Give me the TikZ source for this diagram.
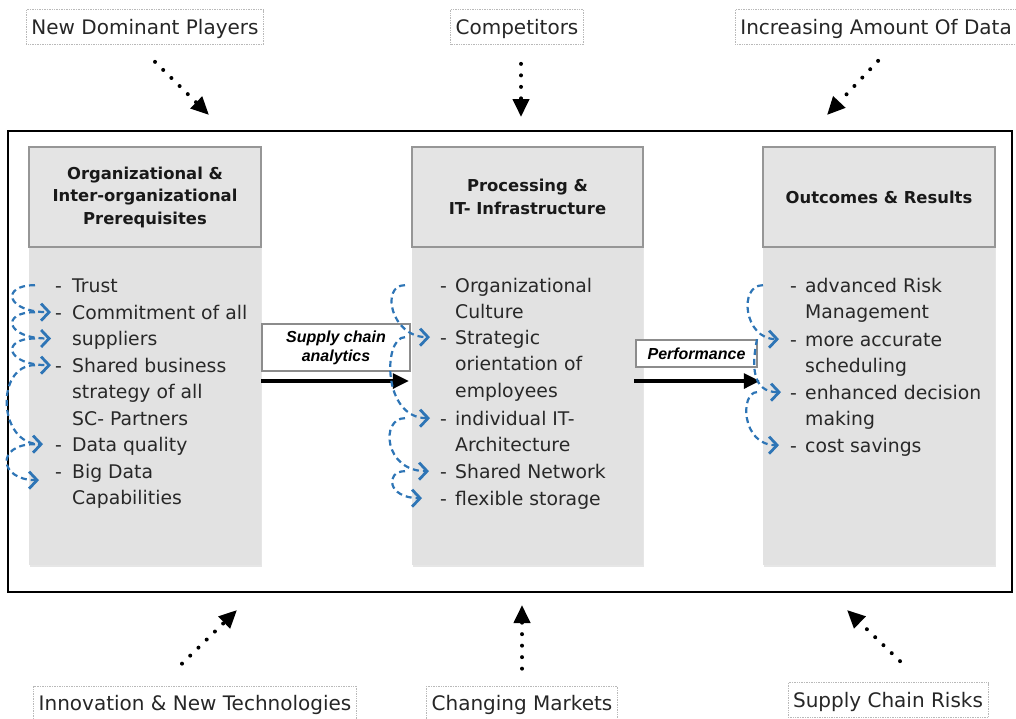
\documentclass[tikz,border=0pt]{standalone}
\usepackage{fontspec}
\setmainfont{DejaVu Sans}
\newfontfamily\arialf{Liberation Sans}
\usetikzlibrary{arrows.meta,shadows}
\definecolor{hdrfill}{RGB}{228,228,228}
\definecolor{bodyfill}{RGB}{226,226,226}
\definecolor{hdrline}{RGB}{150,150,150}
\definecolor{bluec}{RGB}{46,117,182}
\definecolor{txt}{RGB}{40,40,40}
\definecolor{lblline}{RGB}{185,185,185}
\begin{document}
\begin{tikzpicture}[x=1pt,y=-1pt,
  frame/.style={draw=black,line width=2pt},
  hdr/.style={draw=hdrline,line width=1.5pt,fill=hdrfill,minimum height=100pt,align=center,
    font=\fontsize{16.4}{22.5}\selectfont\bfseries,text=black!90,inner sep=0},
  bodybox/.style={fill=bodyfill,minimum height=319pt,inner sep=0,
    drop shadow={shadow xshift=0.5pt,shadow yshift=-2pt,opacity=0.2}},
  item/.style={anchor=base west,align=left,inner sep=0,text=txt,font=\fontsize{18.8}{26.6}\selectfont},
  dashn/.style={anchor=base west,inner sep=0,text=txt,font=\fontsize{18.8}{26.6}\selectfont,text height=13.7pt,text depth=0pt},
  toplbl/.style={draw=lblline,line width=0.7pt,densely dotted,text=black!85,font=\fontsize{20}{24}\selectfont,
    minimum height=35pt,inner xsep=5pt,inner ysep=0pt,text height=14.6pt,text depth=0pt},
  lbox/.style={draw=black!45,line width=1.2pt,fill=white,align=center,inner sep=0,
    font=\arialf\bfseries\itshape\fontsize{16}{19}\selectfont},
  dotarr/.style={line width=4pt,line cap=round,dash pattern=on 0pt off 11.5pt,
    -{Triangle[length=18pt,width=16pt]}},
  mainarr/.style={line width=3.2pt,-{Triangle[length=16pt,width=15pt]}},
  bluearr/.style={draw=bluec,line width=2.2pt,dash pattern=on 6pt off 4pt,
    -{Straight Barb[length=8pt,width=17pt,line width=2.8pt]}}
]
\useasboundingbox (0,0) rectangle (1016,718);

% outer frame
\draw[frame] (8,131) rectangle (1012,592);

% column bodies
\node[bodybox,minimum width=232pt] (b1) at (145,405.5) {};
\node[bodybox,minimum width=231pt] (b2) at (527.5,405.5) {};
\node[bodybox,minimum width=232pt] (b3) at (879,405.5) {};

% headers
\node[hdr,minimum width=232pt] (h1) at (145,197) {Organizational \&\\Inter-organizational\\Prerequisites};
\node[hdr,minimum width=231pt] (h2) at (527.5,197) {Processing \&\\IT- Infrastructure};
\node[hdr,minimum width=232pt] (h3) at (879,197) {Outcomes \& Results};

% main arrows and labels
\draw[mainarr] ([yshift=24.5pt]b1.east) -- ([xshift=-3pt,yshift=24.5pt]b2.west);
\draw[mainarr] ([xshift=-9pt,yshift=24.5pt]b2.east) -- ([xshift=-3pt,yshift=24.5pt]b3.west);
\node[lbox,minimum width=148pt,minimum height=47pt] (sca) at (336,347.5) {Supply chain\\analytics};
\node[lbox,minimum width=121pt,minimum height=27pt] (perf) at (696.5,353.5) {Performance};

% outside influences
\node[toplbl] (ndp) at (145,27) {New Dominant Players};
\node[toplbl] (comp) at (517,27) {Competitors};
\node[toplbl,anchor=west] (iaod) at (735,27) {Increasing Amount Of Data};
\node[toplbl] (innov) at (195,703.5) {Innovation \& New Technologies};
\node[toplbl] (chm) at (522,703.5) {Changing Markets};
\node[toplbl] (scr) at (888,700) {Supply Chain Risks};

\coordinate (t1) at (209,115);
\coordinate (t2) at (521,117);
\coordinate (t3) at (827,115);
\coordinate (t4) at (237,610);
\coordinate (t5) at (522,605);
\coordinate (t6) at (847,610);
\draw[dotarr] ([shift={(10,17)}]ndp.south) -- (t1);
\draw[dotarr] ([shift={(4,19)}]comp.south) -- (t2);
\draw[dotarr] ([shift={(2,16)}]iaod.south) -- (t3);
\draw[dotarr] ([shift={(-13,-22)}]innov.north) -- (t4);
\draw[dotarr] ([shift={(0,-17)}]chm.north) -- (t5);
\draw[dotarr] ([shift={(12,-21)}]scr.north) -- (t6);

% left column items
\node[dashn] (dl1) at (55,292) {-};
\node[item] (l1) at (72,292) {Trust};
\node[dashn] (dl2) at (55,319) {-};
\node[item] (l2) at (72,345.6) {Commitment of all\\suppliers};
\node[dashn] (dl3) at (55,372) {-};
\node[item] (l3) at (72,425.2) {Shared business\\strategy of all\\SC- Partners};
\node[dashn] (dl4) at (55,451) {-};
\node[item] (l4) at (72,451) {Data quality};
\node[dashn] (dl5) at (55,478) {-};
\node[item] (l5) at (72,504.6) {Big Data\\Capabilities};

% middle column items
\node[dashn] (dm1) at (440,292) {-};
\node[item] (m1) at (455,318.6) {Organizational\\Culture};
\node[dashn] (dm2) at (440,344) {-};
\node[item] (m2) at (455,397.2) {Strategic\\orientation of\\employees};
\node[dashn] (dm3) at (440,425) {-};
\node[item] (m3) at (455,451.6) {individual IT-\\Architecture};
\node[dashn] (dm4) at (440,478) {-};
\node[item] (m4) at (455,478) {Shared Network};
\node[dashn] (dm5) at (440,505) {-};
\node[item] (m5) at (455,505) {flexible storage};

% right column items
\node[dashn] (dr1) at (790,292) {-};
\node[item] (r1) at (805,318.6) {advanced Risk\\Management};
\node[dashn] (dr2) at (790,346) {-};
\node[item] (r2) at (805,372.6) {more accurate\\scheduling};
\node[dashn] (dr3) at (790,399) {-};
\node[item] (r3) at (805,425.6) {enhanced decision\\making};
\node[dashn] (dr4) at (790,452) {-};
\node[item] (r4) at (805,452) {cost savings};

% blue dashed curved arrows - left
\draw[bluearr] ([xshift=-20pt]dl1.west) .. controls +(-35,0) and +(-45,0) .. ([xshift=-4pt]dl2.west);
\draw[bluearr] ([xshift=-20pt]dl2.west) .. controls +(-35,0) and +(-45,0) .. ([xshift=-4pt]dl2.west |- 0,338.5);
\draw[bluearr] ([xshift=-20pt]dl2.west |- 0,338.5) .. controls +(-35,0) and +(-45,0) .. ([xshift=-4pt]dl3.west);
\draw[bluearr] ([xshift=-20pt]dl3.west) .. controls +(-40,0) and +(-45,0) .. ([xshift=-12pt]dl4.west);
\draw[bluearr] ([xshift=-20pt]dl4.west) .. controls +(-40,0) and +(-40,0) .. ([shift={(-16,9)}]dl5.west);

% blue dashed curved arrows - middle
\draw[bluearr] ([xshift=-35pt]dm1.west) .. controls +(-25,0) and +(-39,0) .. ([xshift=-10pt]dm2.west);
\draw[bluearr] ([xshift=-35pt]dm2.west) .. controls +(-22,0) and +(-48,0) .. ([xshift=-10pt]dm3.west);
\draw[bluearr] ([xshift=-35pt]dm3.west) .. controls +(-25,0) and +(-45,0) .. ([xshift=-11pt]dm4.west);
\draw[bluearr] ([xshift=-35pt]dm4.west) .. controls +(-20,0) and +(-35,0) .. ([xshift=-18pt]dm5.west);

% blue dashed curved arrows - right
\draw[bluearr] ([xshift=-27pt]dr1.west) .. controls +(-25,0) and +(-35,0) .. ([xshift=-11pt]dr2.west);
\draw[bluearr] ([xshift=-33pt]dr2.west) .. controls +(-5,25) and +(-30,0) .. ([xshift=-9pt]dr3.west);
\draw[bluearr] ([xshift=-33pt]dr3.west) .. controls +(-17,0) and +(-38,0) .. ([xshift=-11pt]dr4.west);
\end{tikzpicture}
\end{document}
